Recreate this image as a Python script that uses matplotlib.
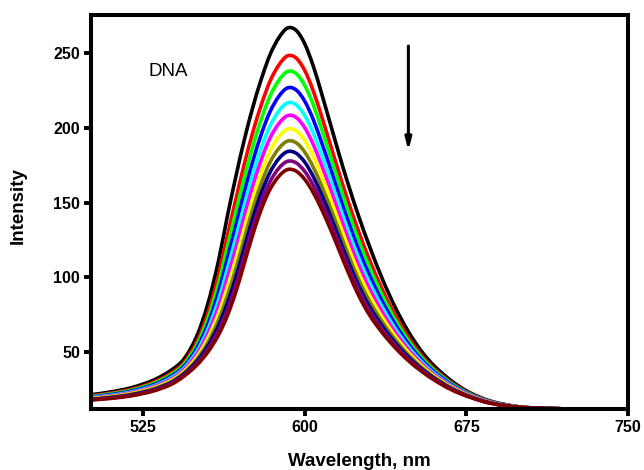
import matplotlib
matplotlib.use("Agg")
import matplotlib.pyplot as plt
from matplotlib.path import Path
from matplotlib.patches import PathPatch

plt.rcParams['font.family'] = ['Liberation Sans', 'DejaVu Sans']

wavelength = [500, 510, 520, 530, 538, 544, 550, 555, 560, 564, 568, 572, 576, 580, 584, 588,
              592, 596, 600, 604, 608, 612, 616, 620, 625, 630, 636, 642, 648, 654, 660, 668,
              676, 686, 700, 720]

black = [21.5, 23.5, 26.5, 31.5, 38, 45.5, 61, 82, 111, 140, 167, 192, 214, 233, 249, 260,
         266.5, 265, 256, 241, 222, 202, 182, 163, 141, 121, 99, 80, 64, 51, 41, 31,
         23.5, 17.5, 13.5, 12.2]
red = [20.8, 22.7, 25.4, 30.1, 36.1, 43.2, 57.2, 75.7, 101.3, 127.0, 151.8, 175.8, 197.3, 215.9, 231.3, 241.8,
       247.9, 246.5, 238.2, 224.4, 206.8, 188.2, 169.4, 151.4, 130.6, 111.9, 91.9, 74.7, 60.2, 48.3, 39.1, 29.8,
       22.9, 17.2, 13.4, 12.2]
green = [20.4, 22.2, 24.8, 29.3, 35.1, 42.0, 55.0, 72.2, 95.8, 119.7, 143.4, 166.7, 187.9, 206.3, 221.4, 231.6,
         237.5, 236.1, 228.2, 215.1, 198.4, 180.5, 162.4, 144.9, 124.7, 106.9, 88.0, 71.7, 58.0, 46.9, 38.1, 29.2,
         22.5, 17.0, 13.4, 12.2]
blue = [20.0, 21.7, 24.2, 28.4, 34.0, 40.6, 52.8, 68.5, 90.1, 112.1, 134.4, 157.1, 178.0, 196.2, 210.9, 220.9,
        226.5, 225.2, 217.7, 205.3, 189.4, 172.4, 154.9, 138.0, 118.6, 101.5, 83.8, 68.6, 55.8, 45.3, 37.0, 28.5,
        22.1, 16.9, 13.4, 12.2]
cyan = [19.6, 21.2, 23.6, 27.6, 33.0, 39.4, 50.7, 65.1, 84.8, 105.1, 126.3, 148.4, 169.0, 187.0, 201.4, 211.1,
        216.5, 215.3, 208.1, 196.3, 181.3, 165.0, 148.1, 131.8, 113.0, 96.7, 80.0, 65.7, 53.7, 43.9, 36.0, 27.8,
        21.8, 16.7, 13.3, 12.2]
magenta = [19.3, 20.8, 23.1, 27.0, 32.1, 38.4, 48.9, 62.2, 80.4, 99.2, 119.3, 140.9, 161.4, 179.2, 193.3, 202.7,
           208.0, 206.8, 200.0, 188.7, 174.3, 158.7, 142.4, 126.5, 108.2, 92.5, 76.7, 63.3, 51.9, 42.6, 35.1, 27.3,
           21.5, 16.6, 13.3, 12.2]
yellow = [19.0, 20.4, 22.6, 26.3, 31.2, 37.3, 47.1, 59.2, 75.7, 92.9, 112.0, 133.1, 153.3, 170.9, 184.7, 194.0,
          199.0, 197.9, 191.4, 180.7, 167.0, 152.0, 136.3, 120.9, 103.2, 88.2, 73.3, 60.7, 50.1, 41.4, 34.2, 26.7,
          21.2, 16.4, 13.3, 12.2]
olive = [18.7, 20.1, 22.1, 25.7, 30.4, 36.3, 45.4, 56.4, 71.5, 87.3, 105.5, 126.1, 146.1, 163.5, 177.1, 186.1,
         191.0, 189.9, 183.7, 173.5, 160.5, 146.1, 130.9, 115.9, 98.7, 84.3, 70.2, 58.4, 48.4, 40.2, 33.4, 26.2,
         20.9, 16.3, 13.3, 12.2]
navy = [18.4, 19.7, 21.7, 25.1, 29.7, 35.5, 44.0, 54.1, 67.8, 82.4, 99.8, 120.0, 139.8, 157.1, 170.4, 179.3,
        184.0, 182.9, 177.0, 167.2, 154.8, 140.9, 126.1, 111.5, 94.7, 80.8, 67.6, 56.4, 47.0, 39.2, 32.7, 25.8,
        20.7, 16.2, 13.2, 12.2]
purple = [18.2, 19.4, 21.3, 24.6, 29.1, 34.7, 42.6, 51.9, 64.4, 77.8, 94.5, 114.3, 133.9, 151.1, 164.2, 172.9,
          177.5, 176.5, 170.8, 161.4, 149.5, 136.1, 121.7, 107.4, 91.1, 77.7, 65.1, 54.6, 45.6, 38.3, 32.0, 25.4,
          20.5, 16.1, 13.2, 12.2]
maroon = [18.0, 19.2, 21.0, 24.2, 28.5, 34.0, 41.5, 50.0, 61.5, 74.0, 90.0, 109.5, 129.0, 146.0, 159.0, 167.5,
          172.0, 171.0, 165.5, 156.5, 145.0, 132.0, 118.0, 104.0, 88.0, 75.0, 63.0, 53.0, 44.5, 37.5, 31.5, 25.0,
          20.3, 16.0, 13.2, 12.2]

series = [black, red, green, blue, cyan, magenta, yellow, olive, navy, purple, maroon]
colors = ['#000000', '#ff0000', '#00ff00', '#0000ff', '#00ffff', '#ff00ff',
          '#ffff00', '#808000', '#000080', '#800080', '#800000']

x_ticks = [525, 600, 675, 750]
y_ticks = [50, 100, 150, 200, 250]


def smooth_path(xs, ys):
    """Cubic Hermite (Bezier) path passing through every data point."""
    n = len(xs)
    slopes = []
    for i in range(n):
        if i == 0:
            slopes.append((ys[1] - ys[0]) / (xs[1] - xs[0]))
        elif i == n - 1:
            slopes.append((ys[-1] - ys[-2]) / (xs[-1] - xs[-2]))
        else:
            slopes.append((ys[i + 1] - ys[i - 1]) / (xs[i + 1] - xs[i - 1]))
    verts = [(xs[0], ys[0])]
    codes = [Path.MOVETO]
    for i in range(n - 1):
        h = xs[i + 1] - xs[i]
        verts += [(xs[i] + h / 3, ys[i] + slopes[i] * h / 3),
                  (xs[i + 1] - h / 3, ys[i + 1] - slopes[i + 1] * h / 3),
                  (xs[i + 1], ys[i + 1])]
        codes += [Path.CURVE4] * 3
    return Path(verts, codes)


fig = plt.figure(figsize=(6.44, 4.70), dpi=100)
ax = fig.add_axes([0.1418, 0.1304, 0.9752 - 0.1418, 0.9674 - 0.1304])

for ys, c in zip(series, colors):
    patch = PathPatch(smooth_path(wavelength, ys), facecolor='none', edgecolor=c,
                      lw=2.6, joinstyle='round', capstyle='butt')
    ax.add_patch(patch)

ax.set_xlim(501, 750)
ax.set_ylim(12.3, 275)
ax.set_xticks(x_ticks)
ax.set_yticks(y_ticks)

for side in ['left', 'right', 'top', 'bottom']:
    ax.spines[side].set_linewidth(2.9)
ax.tick_params(axis='both', which='both', direction='out', length=5, width=2.8,
               labelsize=11.5, pad=3, top=False, right=False)
for lbl in ax.get_xticklabels() + ax.get_yticklabels():
    lbl.set_fontweight('bold')

ax.set_xlabel('Wavelength, nm', fontsize=13.5, fontweight='bold')
ax.set_ylabel('Intensity', fontsize=13.5, fontweight='bold')
ax.xaxis.set_label_coords(0.5, -0.112)
ax.yaxis.set_label_coords(-0.121, 0.517)

ax.text(527.5, 237.4, 'DNA', fontsize=13.5, ha='left', va='center')
ax.annotate('', xy=(648.1, 184.6), xytext=(648.1, 254.5),
            arrowprops=dict(arrowstyle='-|>,head_length=0.7,head_width=0.18', color='black', lw=2.2,
                            shrinkA=0, shrinkB=0))

fig.savefig('out.png', dpi=100)
